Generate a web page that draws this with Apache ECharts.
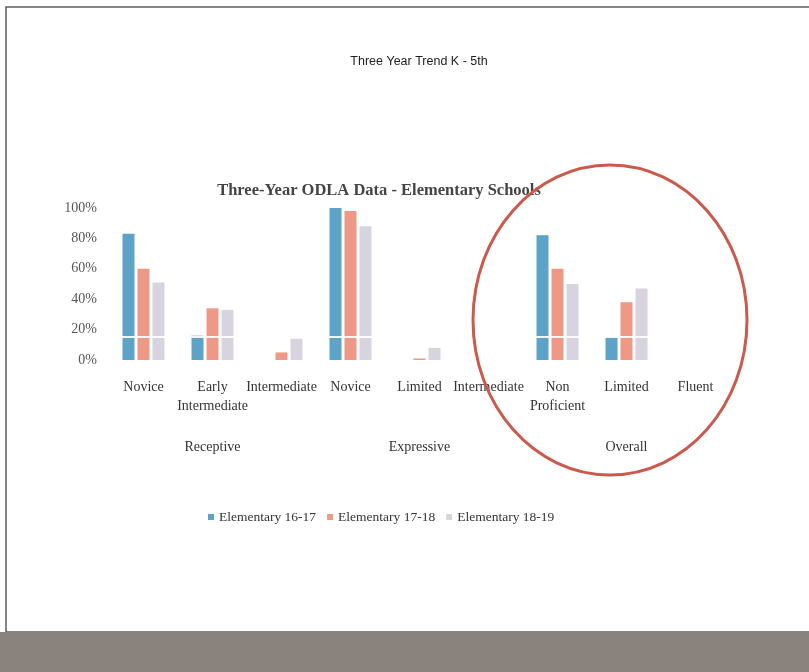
<!doctype html>
<html>
<head>
<meta charset="utf-8">
<title>Three Year Trend K - 5th</title>
<style>
  html, body { margin: 0; padding: 0; background: #fff; }
  #main { width: 809px; height: 672px; }
</style>
</head>
<body>
<div id="main"></div>
<script src="https://cdn.jsdelivr.net/npm/echarts@6/dist/echarts.min.js"></script>
<script>
var categories = ['Novice', 'Early\nIntermediate', 'Intermediate', 'Novice', 'Limited', 'Intermediate', 'Non\nProficient', 'Limited', 'Fluent'];
var groups = ['Receptive', 'Expressive', 'Overall'];
var seriesNames = ['Elementary 16-17', 'Elementary 17-18', 'Elementary 18-19'];
var elem1617 = [83, 16, 0, 100, 0, 0, 82, 15, 0];
var elem1718 = [60, 34, 5, 98, 1, 0, 60, 38, 0];
var elem1819 = [51, 33, 14, 88, 8, 0, 50, 47, 0];
var yTicks = [0, 20, 40, 60, 80, 100];

var colors = ['#5da2c7', '#ed9985', '#d8d4df'];
var serif = '"Liberation Serif", "DejaVu Serif", serif';

var chart = echarts.init(document.getElementById('main'));

function bar(name, data, i) {
    var s = {
        name: name,
        type: 'bar',
        data: data,
        barWidth: 12,
        barGap: '25%',
        itemStyle: { color: colors[i] }
    };
    if (i === 0) {
        // faint white streak that runs across the bars in the scan
        s.markLine = {
            silent: true,
            symbol: 'none',
            label: { show: false },
            lineStyle: { color: '#ffffff', width: 2, type: 'solid', opacity: 0.9 },
            data: [{ yAxis: 15 }]
        };
    }
    return s;
}

chart.setOption({
    animation: false,
    backgroundColor: '#ffffff',
    color: colors,
    title: [{
        text: 'Three Year Trend K - 5th',
        left: 414,
        top: 50,
        textAlign: 'center',
        textStyle: { fontFamily: '"Liberation Sans", Arial, sans-serif', fontSize: 12.5, fontWeight: 'normal', color: '#222' }
    }, {
        text: 'Three-Year ODLA Data - Elementary Schools',
        left: 374,
        top: 177,
        textAlign: 'center',
        textStyle: { fontFamily: serif, fontSize: 16.5, fontWeight: 'bold', color: '#444' }
    }],
    legend: {
        data: seriesNames,
        left: 203,
        top: 505,
        itemWidth: 6,
        itemHeight: 6,
        itemGap: 11,
        icon: 'rect',
        textStyle: { fontFamily: serif, fontSize: 13.5, color: '#333' }
    },
    grid: { left: 109, right: 79, top: 208, bottom: 312 },
    xAxis: [{
        type: 'category',
        data: categories,
        axisLine: { show: false },
        axisTick: { show: false },
        axisLabel: { interval: 0, margin: 18, fontFamily: serif, fontSize: 14, lineHeight: 19, color: '#333' }
    }, {
        type: 'category',
        data: groups,
        position: 'bottom',
        offset: 72,
        axisLine: { show: false },
        axisTick: { show: false },
        axisLabel: { interval: 0, fontFamily: serif, fontSize: 14, color: '#333' }
    }],
    yAxis: {
        type: 'value',
        min: yTicks[0],
        max: yTicks[yTicks.length - 1],
        interval: 20,
        splitLine: { show: false },
        axisLine: { show: false },
        axisTick: { show: false },
        axisLabel: { formatter: '{value}%', margin: 12, fontFamily: serif, fontSize: 14, color: '#555' }
    },
    series: [
        bar(seriesNames[0], elem1617, 0),
        bar(seriesNames[1], elem1718, 1),
        bar(seriesNames[2], elem1819, 2)
    ],
    graphic: [
        // page frame of the scanned slide
        { type: 'rect', shape: { x: 6, y: 7, width: 820, height: 625 }, style: { fill: 'none', stroke: '#5e5e5e', lineWidth: 1.5 }, silent: true },
        // grey strip at the bottom of the scan
        { type: 'rect', shape: { x: 0, y: 632, width: 809, height: 40 }, style: { fill: '#8a827d' }, silent: true },
        // red hand-drawn circle around "Overall"
        { type: 'ellipse', shape: { cx: 610, cy: 320, rx: 137, ry: 155 }, style: { fill: 'none', stroke: '#cc5a4c', lineWidth: 3 }, z: 10, silent: true }
    ]
});

window.onresize = chart.resize;
</script>
</body>
</html>
